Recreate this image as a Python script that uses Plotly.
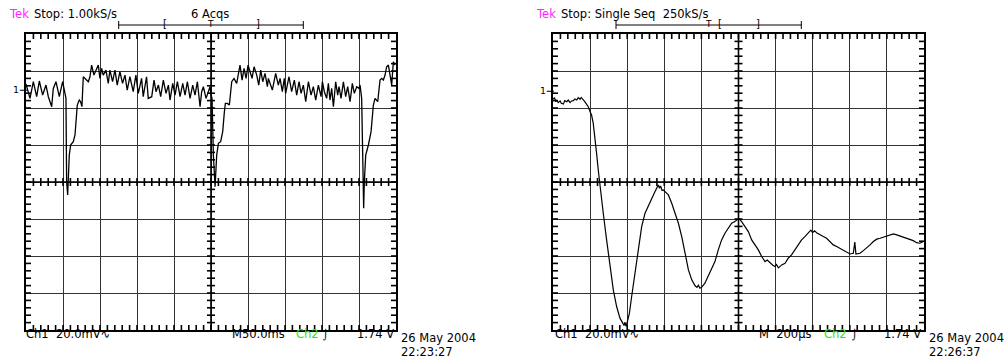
import plotly.graph_objects as go

W, H = 1004, 360

# Channel 1, left capture: 50 ms/div, 20 mV/div
left_t_ms = [0, 5.4, 9.9, 14.4, 18.0, 22.5, 27.0, 30.2, 34.7, 36.9, 40.5, 45.0, 49.5, 51.3,
             54.0, 54.9, 56.3, 58.5, 60.3, 63.9, 66.2, 69.3, 72.0, 73.8, 75.6, 77.4, 79.7,
             84.2, 86.4, 88.7, 91.8, 95.4, 97.7, 99.9, 102.2, 104.4, 108.0, 111.2, 113.4,
             117.0, 120.2, 123.3, 126.9, 130.5, 133.7, 136.8, 140.4, 144.9, 148.5, 151.7,
             156.2, 158.4, 162.9, 165.2, 169.9, 173.0, 175.7, 178.9, 182.0, 185.6, 189.2,
             192.4, 194.6, 198.3, 201.4, 204.6, 208.2, 211.8, 214.9, 218.1, 221.7, 225.3,
             228.4, 231.6, 235.2, 237.4, 239.7, 243.3, 246.5, 248.7, 250.1, 251.4, 253.2,
             255.5, 257.7, 260.0, 263.1, 265.8, 268.1, 269.4, 272.1, 274.8, 278.0, 281.1,
             284.7, 287.4, 289.2, 292.0, 294.7, 297.4, 300.1, 302.8, 305.5, 308.2, 311.8,
             314.5, 317.2, 319.9, 323.0, 326.2, 327.5, 332.9, 337.4, 341.0, 343.3, 346.4,
             349.1, 350.9, 355.4, 359.0, 362.6, 365.8, 369.0, 371.7, 374.8, 378.0, 381.6,
             385.2, 388.3, 391.5, 395.1, 398.7, 400.5, 403.2, 406.3, 408.6, 410.8, 413.1,
             415.4, 418.5, 421.2, 423.0, 425.7, 428.9, 432.0, 434.7, 437.9, 441.0, 443.7,
             446.9, 450.0, 451.4, 453.6, 455.0, 456.3, 457.2, 459.1, 462.7, 466.3, 469.4,
             471.7, 475.3, 478.4, 480.7, 482.9, 485.2, 487.4, 489.7, 491.9, 494.2, 496.4,
             498.7]
left_mv = [53.0, 45.2, 54.2, 46.1, 54.6, 47.0, 52.4, 46.1, 40.7, 50.6, 54.2, 46.1, 54.2, 50.6,
           45.2, 0.2, -7.0, 14.6, 20.0, 21.8, 25.4, 41.6, 44.3, 43.4, 40.7, 56.9, 56.0,
           54.2, 56.9, 63.2, 57.8, 61.4, 63.2, 56.0, 61.4, 57.8, 60.5, 53.3, 60.5,
           54.2, 60.5, 52.4, 59.6, 53.3, 57.8, 49.7, 56.9, 48.8, 57.8, 47.9,
           56.0, 46.1, 56.9, 45.2, 46.1, 55.1, 48.8, 52.4, 46.1, 55.1, 47.9,
           52.4, 44.3, 53.3, 47.0, 54.2, 46.1, 53.3, 47.0, 54.2, 45.2, 52.4,
           47.0, 54.2, 40.7, 48.8, 51.5, 45.2, 48.8, 51.5, 47.0, 45.2, 14.6,
           -2.5, 14.6, 20.9, 21.8, 27.2, 38.0, 42.5, 42.5, 41.6, 54.2, 56.0,
           53.3, 58.7, 63.2, 55.1, 61.4, 56.0, 63.2, 59.6, 56.0, 62.3, 57.8,
           52.4, 60.5, 54.2, 58.7, 51.5, 56.0, 49.7, 58.7, 52.4, 56.0, 48.8,
           56.0, 47.9, 56.9, 48.8, 55.1, 47.0, 54.2, 47.9, 52.4, 43.4, 54.2,
           47.0, 51.5, 44.3, 52.4, 46.1, 54.2, 48.8, 45.2, 53.3, 44.3, 50.6,
           40.7, 54.2, 47.0, 51.5, 45.2, 54.2, 46.1, 51.5, 43.4, 53.3, 47.9,
           51.5, 50.6, 52.4, 45.2, 14.6, -14.2, 0.2, 14.6, 20.0, 27.2, 41.6,
           45.2, 43.4, 55.1, 56.0, 55.1, 57.8, 62.3, 63.2, 57.8, 52.4, 65.0,
           63.2]

# Channel 1, right capture: 200 us/div, 20 mV/div
right_t_us = [0, 8, 15, 20, 28, 38, 45, 56, 63, 74, 82, 92, 100, 110, 118, 128, 136, 146,
              152, 160, 167, 178, 190, 200, 208, 217, 226, 235, 244, 253, 271, 289, 307,
              325, 343, 361, 376, 383, 388, 394, 401, 412, 424, 442, 460, 478, 496, 514,
              532, 550, 560, 568, 574, 580, 588, 595, 604, 622, 640, 658, 676, 694, 712,
              730, 748, 766, 776, 784, 792, 801, 819, 837, 855, 873, 891, 909, 927, 945,
              963, 981, 1001, 1017, 1035, 1053, 1071, 1089, 1107, 1125, 1143, 1155, 1170,
              1185, 1197, 1205, 1215, 1233, 1251, 1268, 1286, 1304, 1322, 1340, 1358,
              1376, 1390, 1400, 1410, 1421, 1439, 1457, 1475, 1493, 1511, 1529, 1547,
              1565, 1583, 1601, 1619, 1627, 1633, 1655, 1673, 1691, 1709, 1727, 1745,
              1763, 1781, 1799, 1817, 1835, 1853, 1871, 1888, 1906, 1924, 1942, 1960,
              1978, 1996]
right_mv = [44.7, 45.6, 43.4, 44.3, 42.9, 43.8, 42.5, 42.1, 44.0, 43.4, 44.3, 42.9, 43.8, 44.0,
            44.9, 44.3, 45.6, 44.7, 45.7, 44.4, 44.0, 42.5, 40.7, 38.0, 36.2, 31.7, 24.5,
            15.5, 6.5, -2.5, -16.9, -31.3, -45.7, -58.3, -67.3, -73.6, -76.3, -77.6,
            -75.8, -78.0, -75.4, -70.9, -61.9, -49.3, -34.9, -24.1, -16.9, -13.3, -9.7,
            -5.2, -3.1, -1.6, -3.4, -2.1, -4.6, -4.3, -5.2, -7.0, -11.5, -16.9, -22.3,
            -29.5, -38.5, -47.5, -52.9, -56.1, -57.0, -55.8, -57.4, -56.9, -54.7, -51.1,
            -47.5, -43.0, -36.7, -31.3, -27.7, -25.0, -22.3, -21.4, -19.6, -21.4, -24.1,
            -26.8, -31.3, -34.0, -36.7, -40.3, -43.0, -42.2, -43.9, -45.0, -45.7, -44.6,
            -46.4, -44.8, -43.9, -41.2, -39.4, -36.7, -34.0, -31.3, -29.5, -27.7, -26.0,
            -27.3, -26.4, -27.4, -28.6, -29.5, -30.4, -32.2, -34.0, -34.9, -35.8, -36.7,
            -37.6, -38.9, -38.5, -32.5, -38.9, -38.5, -37.1, -35.8, -34.0, -32.2, -30.9,
            -30.4, -29.9, -29.5, -28.6, -28.1, -28.6, -29.2, -29.9, -30.4, -31.3, -31.7,
            -32.8, -33.1, -32.2]

LEFT_X = (26, 396)
RIGHT_X = (553, 924)
TOP, BOTTOM = 34, 330
FONT = "DejaVu Sans"
Y_SPAN = 160  # mV across the 8 vertical divisions


def px(x):
    return x / W


def py(y):
    return 1 - y / H


fig = go.Figure()


def graticule_marks(span, minor, dom):
    """Center cross plus small division marks on the cross and along the frame."""
    xs, ys = [], []
    mid = span / 2
    tx = span / (dom[1] - dom[0])
    ty = Y_SPAN / (BOTTOM - TOP)

    def add(x0, x1, y0, y1):
        xs.extend([x0, x1, None])
        ys.extend([y0, y1, None])

    add(0, span, 0, 0)
    add(mid, mid, -80, 80)
    n = round(span / minor)
    for i in range(1, n):
        k = i * minor
        add(k, k, -4 * ty, 4 * ty)
        add(k, k, 80, 80 - 5 * ty)
        add(k, k, -80, -80 + 5 * ty)
    for j in range(1, 40):
        v = -80 + 4 * j
        add(mid - 4 * tx, mid + 4 * tx, v, v)
        add(0, 5 * tx, v, v)
        add(span - 5 * tx, span, v, v)
    return xs, ys


for xa, ya, span, minor, dom in (("x", "y", 500, 10, LEFT_X), ("x2", "y2", 2000, 40, RIGHT_X)):
    gx, gy = graticule_marks(span, minor, dom)
    fig.add_trace(go.Scatter(x=gx, y=gy, mode="lines", xaxis=xa, yaxis=ya,
                             line=dict(color="black", width=1.6), hoverinfo="skip",
                             showlegend=False, connectgaps=False))

fig.add_trace(go.Scatter(x=left_t_ms, y=left_mv, mode="lines", xaxis="x", yaxis="y",
                         line=dict(color="black", width=1.3), showlegend=False))
fig.add_trace(go.Scatter(x=right_t_us, y=right_mv, mode="lines", xaxis="x2", yaxis="y2",
                         line=dict(color="black", width=1.2), showlegend=False))

grid = "#333333"


def xax(domain, span, dtick):
    return dict(domain=[px(domain[0]), px(domain[1])], range=[0, span], dtick=dtick, tick0=0,
                showgrid=True, gridcolor=grid, gridwidth=1, zeroline=False,
                showline=True, linecolor="black", linewidth=1.6, mirror=True,
                ticks="", showticklabels=False, fixedrange=True)


def yax(anchor):
    return dict(domain=[py(BOTTOM), py(TOP)], range=[-80, 80], dtick=20, tick0=0,
                showgrid=True, gridcolor=grid, gridwidth=1, zeroline=False,
                showline=True, linecolor="black", linewidth=1.6, mirror=True,
                ticks="", showticklabels=False, anchor=anchor, fixedrange=True)


shapes = []
# Trigger position bars in the header
for x0, x1 in ((118.7, 303.3), (616, 801.3)):
    shapes.append(dict(type="line", xref="paper", yref="paper", x0=px(x0), x1=px(x1),
                       y0=py(25), y1=py(25), line=dict(color="black", width=1)))
    for xe in (x0, x1):
        shapes.append(dict(type="line", xref="paper", yref="paper", x0=px(xe), x1=px(xe),
                           y0=py(21), y1=py(29), line=dict(color="black", width=1)))

annotations = []


def label(x, y, text, size=11.5, color="black", anchor="left"):
    annotations.append(dict(xref="paper", yref="paper", x=px(x), y=py(y), text=text,
                            showarrow=False, xanchor=anchor, yanchor="middle",
                            font=dict(family=FONT, size=size, color=color)))


MAGENTA = "#ff22ff"
GREEN = "#22e822"

# Left screen
label(7, 14, "Tek", color=MAGENTA)
label(32, 14, "Stop: 1.00kS/s")
label(210, 14, "6 Acqs", anchor="center")
label(164.5, 24, "[", size=10, anchor="center")
label(210.5, 24, "T", size=9, anchor="center")
label(257.5, 24, "]", size=10, anchor="center")
label(11, 89, "1→", size=9.5)
label(24, 334, "Ch1  20.0mV∿")
label(230, 334, "M50.0ms")
label(294, 334, "Ch2", color=GREEN)
label(321, 334, "⌡", size=10)
label(355, 334, "1.74 V")
label(399, 338, "26 May 2004")
label(399, 352, "22:23:27")

# Right screen
label(534, 14, "Tek", color=MAGENTA)
label(559, 14, "Stop: Single Seq  250kS/s")
label(708.5, 24, "T", size=9, anchor="center")
label(719.5, 24, "[", size=10, anchor="center")
label(757.5, 24, "]", size=10, anchor="center")
label(538, 90, "1→", size=9.5)
label(553, 334, "Ch1  20.0mV∿")
label(757, 334, "M  200µs")
label(822, 334, "Ch2", color=GREEN)
label(850, 334, "⌡", size=10)
label(882, 334, "1.74 V")
label(927, 338, "26 May 2004")
label(927, 352, "22:26:37")

fig.update_layout(
    width=W, height=H, margin=dict(l=0, r=0, t=0, b=0),
    paper_bgcolor="white", plot_bgcolor="white",
    xaxis=xax(LEFT_X, 500, 50) | dict(anchor="y"),
    yaxis=yax("x"),
    xaxis2=xax(RIGHT_X, 2000, 200) | dict(anchor="y2"),
    yaxis2=yax("x2"),
    shapes=shapes, annotations=annotations, showlegend=False,
)

fig.write_html("out.html")
